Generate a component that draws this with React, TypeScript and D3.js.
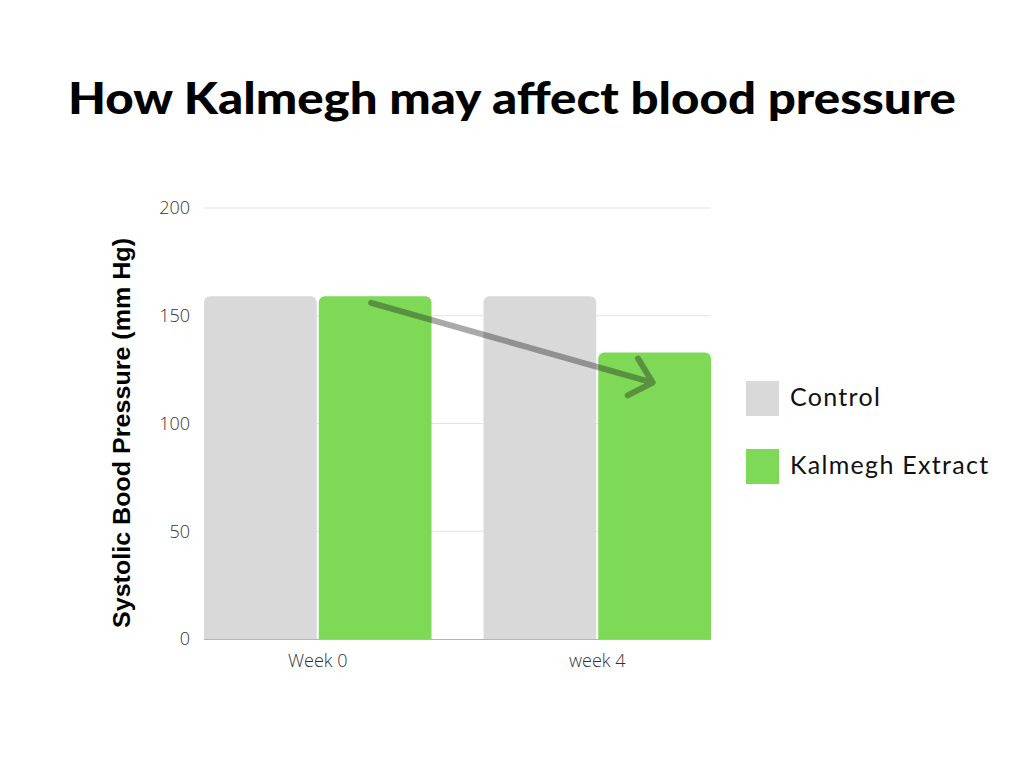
import { useEffect, useRef } from "react";
import * as d3 from "d3";

const weeks = ["Week 0", "week 4"];
const groups = ["Control", "Kalmegh Extract"];
const controlValues = [159, 159];
const kalmeghValues = [159, 133];
const yTicks = [0, 50, 100, 150, 200];
// arrow annotation: from Kalmegh week 0 to Kalmegh week 4
const arrowFrom = 156;
const arrowTo = 119;

const colors = ["#d9d9d9", "#7ed957"];

const App = () => {
  const ref = useRef<SVGSVGElement | null>(null);

  useEffect(() => {
    const svg = d3.select(ref.current);
    svg.selectAll("*").remove();

    const width = 1024;
    const height = 768;
    const marginLeft = 204;
    const plotRight = 711;
    const yTop = 208;
    const yBottom = 639;

    const x0 = d3.scaleBand<string>().domain(weeks).range([marginLeft, plotRight]).paddingInner(0.186).paddingOuter(0);
    const x1 = d3.scaleBand<string>().domain(groups).range([0, x0.bandwidth()]).paddingInner(0.018);
    const y = d3.scaleLinear().domain([0, 200]).range([yBottom, yTop]);

    svg.attr("width", width).attr("height", height).attr("viewBox", [0, 0, width, height]);

    svg.append("rect").attr("width", width).attr("height", height).attr("fill", "#ffffff");

    // title
    svg.append("text")
      .attr("x", 512)
      .attr("y", 114)
      .attr("text-anchor", "middle")
      .attr("font-family", "Lato")
      .attr("font-weight", 900)
      .attr("font-size", 43)
      .attr("textLength", 888)
      .attr("lengthAdjust", "spacingAndGlyphs")
      .attr("fill", "#000")
      .text("How Kalmegh may affect blood pressure");

    // grid
    svg.append("g")
      .selectAll("line")
      .data(yTicks.slice(1))
      .join("line")
      .attr("x1", marginLeft)
      .attr("x2", plotRight)
      .attr("y1", d => y(d))
      .attr("y2", d => y(d))
      .attr("stroke", "#e3e3e3")
      .attr("stroke-width", 1.2);

    // y tick labels
    svg.append("g")
      .selectAll("text")
      .data(yTicks)
      .join("text")
      .attr("x", 190)
      .attr("y", d => y(d))
      .attr("dy", "0.35em")
      .attr("text-anchor", "end")
      .attr("font-family", "Open Sans")
      .attr("font-weight", 300)
      .attr("font-size", 18)
      .attr("fill", "#333")
      .text(d => d);

    // bars
    const series = [controlValues, kalmeghValues];
    const r = 6;
    const barPath = (bx: number, bw: number, top: number, bottom: number) => {
      const p = d3.path();
      p.moveTo(bx, bottom);
      p.lineTo(bx, top + r);
      p.arcTo(bx, top, bx + r, top, r);
      p.lineTo(bx + bw - r, top);
      p.arcTo(bx + bw, top, bx + bw, top + r, r);
      p.lineTo(bx + bw, bottom);
      p.closePath();
      return p.toString();
    };

    weeks.forEach((w, i) => {
      groups.forEach((g, j) => {
        const bx = (x0(w) ?? 0) + (x1(g) ?? 0);
        svg.append("path")
          .attr("d", barPath(bx, x1.bandwidth(), y(series[j][i]), y(0)))
          .attr("fill", colors[j]);
      });
    });

    // baseline
    svg.append("line")
      .attr("x1", marginLeft)
      .attr("x2", plotRight)
      .attr("y1", y(0) + 0.5)
      .attr("y2", y(0) + 0.5)
      .attr("stroke", "#b5b5b5")
      .attr("stroke-width", 1.2);

    // x labels
    svg.append("g")
      .selectAll("text")
      .data(weeks)
      .join("text")
      .attr("x", d => (x0(d) ?? 0) + x0.bandwidth() / 2)
      .attr("y", 667)
      .attr("text-anchor", "middle")
      .attr("font-family", "Open Sans")
      .attr("font-weight", 300)
      .attr("font-size", 18)
      .attr("fill", "#333")
      .text(d => d);

    // y axis label
    svg.append("text")
      .attr("transform", `translate(130,433) rotate(-90)`)
      .attr("text-anchor", "middle")
      .attr("font-family", "Liberation Sans")
      .attr("font-weight", 700)
      .attr("font-size", 23)
      .attr("textLength", 390)
      .attr("lengthAdjust", "spacingAndGlyphs")
      .attr("fill", "#000")
      .text("Systolic Bood Pressure (mm Hg)");

    // arrow annotation
    const ax1 = (x0(weeks[0]) ?? 0) + (x1(groups[1]) ?? 0) + x1.bandwidth() / 2 - 4;
    const ax2 = (x0(weeks[1]) ?? 0) + (x1(groups[1]) ?? 0) + x1.bandwidth() / 2 - 2;
    const ay1 = y(arrowFrom);
    const ay2 = y(arrowTo);
    const ang = Math.atan2(ay2 - ay1, ax2 - ax1);
    const head = 28;
    const spread = 0.75;
    const arrow = d3.path();
    arrow.moveTo(ax1, ay1);
    arrow.lineTo(ax2, ay2);
    arrow.moveTo(ax2 - head * Math.cos(ang - spread), ay2 - head * Math.sin(ang - spread));
    arrow.lineTo(ax2, ay2);
    arrow.lineTo(ax2 - head * Math.cos(ang + spread), ay2 - head * Math.sin(ang + spread));
    svg.append("path")
      .attr("d", arrow.toString())
      .attr("fill", "none")
      .attr("stroke", "rgba(30,30,30,0.38)")
      .attr("stroke-width", 6)
      .attr("stroke-linecap", "round")
      .attr("stroke-linejoin", "round");

    // legend
    const legend = svg.append("g")
      .selectAll("g")
      .data(groups)
      .join("g")
      .attr("transform", (d, i) => `translate(746,${381 + i * 68})`);
    legend.append("rect")
      .attr("width", 33)
      .attr("height", 35)
      .attr("fill", (d, i) => colors[i]);
    legend.append("text")
      .attr("x", 44)
      .attr("y", 25)
      .attr("font-family", "Lato")
      .attr("font-size", 25)
      .attr("letter-spacing", 1.3)
      .attr("fill", "#111")
      .text(d => d);
  }, []);

  return (
    <div style={{ width: 1024, height: 768 }}>
      <svg ref={ref} style={{ position: "absolute", left: 0, top: 0 }} />
    </div>
  );
};

export default App;
